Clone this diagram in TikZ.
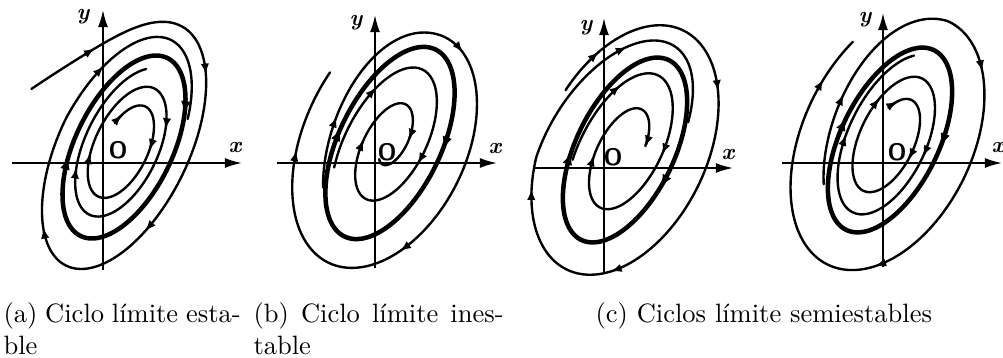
\documentclass[tikz,border=0pt]{standalone}
\usetikzlibrary{arrows.meta}
\newcommand\orb[5]{\draw[#1] plot[domain=#2:#3,samples=130,smooth,variable=\t]({(#4)*100*cos(\t)},{(#4)*(#5)*49*sin(\t)});}
\newcommand\tipat[4]{\pgfmathsetmacro\tbeg{#2-5}\draw[#1] plot[domain=\tbeg:#2,samples=3,variable=\t]({(#3)*100*cos(\t)},{(#3)*(#4)*49*sin(\t)});}
\begin{document}
\begin{tikzpicture}[x=0.377pt,y=-0.377pt,
  traj/.style={line width=0.9pt,line cap=round,line join=round},
  cyc/.style={line width=1.7pt,line join=round},
  tipthin/.style={line width=0.9pt,-{Latex[length=4pt,width=3.2pt]}},
  tipthick/.style={line width=1.4pt,-{Latex[length=4.6pt,width=3.8pt]}},
  axis/.style={line width=0.7pt,-{Latex[length=6.5pt,width=3.8pt]}},
  lbl/.style={inner sep=0pt,font=\fontsize{8.5}{8.5}\selectfont\bfseries\itshape},
  orig/.style={inner sep=0pt,font=\fontsize{9}{9}\selectfont\sffamily\bfseries},
  capt/.style={inner sep=0pt,anchor=base west,font=\normalsize}]
\useasboundingbox (0,0) rectangle (1003,358);

% ---------- (a) ----------
\coordinate (ax0) at (12,163); \coordinate (ax1) at (242,163);
\coordinate (ay0) at (103,270); \coordinate (ay1) at (103,10);
\draw[axis] (ax0) -- (ax1); \draw[axis] (ay0) -- (ay1);
\node[lbl] (ya) at (83,17) {y};
\node[lbl] (xa) at (235,147) {x};
\node[orig] (oa) at (118,150) {O};
\begin{scope}[shift={(124,147)},rotate=64]
\orb{cyc}{0}{360}{0.99}{1}
\tipat{tipthick}{55}{0.99}{1}\tipat{tipthick}{250}{0.99}{1}
\def\sa{1.06+0.26*min(1,(420-\t)/150)+0.9*exp(-min(9,(\t+87)/22))}
\orb{traj}{-87}{420}{\sa}{1}
\tipat{tipthin}{-62}{\sa}{1}\tipat{tipthin}{40}{\sa}{1}\tipat{tipthin}{120}{\sa}{1}\tipat{tipthin}{215}{\sa}{1}\tipat{tipthin}{300}{\sa}{1}
\def\sb{0.42+0.43*(\t+65)/765}
\orb{traj}{-65}{700}{\sb}{1}
\tipat{tipthin}{-50}{\sb}{1}\tipat{tipthin}{80}{\sb}{1}\tipat{tipthin}{250}{\sb}{1}\tipat{tipthin}{420}{\sb}{1}\tipat{tipthin}{600}{\sb}{1}
\end{scope}

% ---------- (b) ----------
\coordinate (bx0) at (277,163); \coordinate (bx1) at (497,163);
\coordinate (by0) at (375,268); \coordinate (by1) at (375,15);
\draw[axis] (bx0) -- (bx1); \draw[axis] (by0) -- (by1);
\node[lbl] (yb) at (356,23) {y};
\node[lbl] (xb) at (495,148) {x};
\node[orig] (ob) at (387,152) {O};
\begin{scope}[shift={(390,143)},rotate=64]
\orb{cyc}{0}{360}{1.04}{1}
\tipat{tipthick}{80}{1.04}{1}\tipat{tipthick}{265}{1.04}{1}
\def\sa{1.08+0.00085*(\t+130)}
\def\ka{1+0.25*min(1,(\t+130)/110)}
\orb{traj}{-130}{285}{\sa}{\ka}
\tipat{tipthin}{-90}{\sa}{\ka}\tipat{tipthin}{20}{\sa}{\ka}\tipat{tipthin}{135}{\sa}{\ka}\tipat{tipthin}{250}{\sa}{\ka}
\def\sb{0.93-0.73*(\t+120)/676}
\orb{traj}{-120}{556}{\sb}{1}
\tipat{tipthin}{-60}{\sb}{1}\tipat{tipthin}{95}{\sb}{1}\tipat{tipthin}{260}{\sb}{1}\tipat{tipthin}{430}{\sb}{1}
\end{scope}

% ---------- (c) ----------
\coordinate (cx0) at (533,168); \coordinate (cx1) at (733,168);
\coordinate (cy0) at (604,273); \coordinate (cy1) at (604,18);
\draw[axis] (cx0) -- (cx1); \draw[axis] (cy0) -- (cy1);
\node[lbl] (yc) at (586,28) {y};
\node[lbl] (xc) at (728,154) {x};
\node[orig] (oc) at (613,157) {O};
\begin{scope}[shift={(625,150)},rotate=64]
\orb{cyc}{0}{360}{1.0}{1}
\tipat{tipthick}{100}{1.0}{1}\tipat{tipthick}{255}{1.0}{1}
\def\sa{1.05+0.28*min(1,(420-\t)/170)}
\def\ka{1+0.25*min(1,(420-\t)/170)}
\orb{traj}{-78}{420}{\sa}{\ka}
\tipat{tipthin}{-55}{\sa}{\ka}\tipat{tipthin}{45}{\sa}{\ka}\tipat{tipthin}{150}{\sa}{\ka}\tipat{tipthin}{235}{\sa}{\ka}\tipat{tipthin}{320}{\sa}{\ka}
\def\sb{0.93-0.57*(\t+110)/540}
\orb{traj}{-110}{430}{\sb}{1}
\tipat{tipthin}{-50}{\sb}{1}\tipat{tipthin}{80}{\sb}{1}\tipat{tipthin}{250}{\sb}{1}\tipat{tipthin}{430}{\sb}{1}
\end{scope}

% ---------- (d) ----------
\coordinate (dx0) at (782,163); \coordinate (dx1) at (1002,163);
\coordinate (dy0) at (883,267); \coordinate (dy1) at (883,13);
\draw[axis] (dx0) -- (dx1); \draw[axis] (dy0) -- (dy1);
\node[lbl] (yd) at (865,20) {y};
\node[lbl] (xd) at (998,147) {x};
\node[orig] (od) at (897,152) {O};
\begin{scope}[shift={(890,140)},rotate=64]
\orb{cyc}{0}{360}{1.0}{1}
\tipat{tipthick}{80}{1.0}{1}\tipat{tipthick}{270}{1.0}{1}
\def\sa{1.07+0.2*min(1,(\t+130)/130)+0.0004*(\t+130)}
\def\ka{1+0.25*min(1,(\t+130)/130)}
\orb{traj}{-130}{300}{\sa}{\ka}
\tipat{tipthin}{-80}{\sa}{\ka}\tipat{tipthin}{40}{\sa}{\ka}\tipat{tipthin}{150}{\sa}{\ka}\tipat{tipthin}{280}{\sa}{\ka}
\def\sb{0.42+0.5*(\t+48)/748}
\orb{traj}{-48}{700}{\sb}{1}
\tipat{tipthin}{-30}{\sb}{1}\tipat{tipthin}{100}{\sb}{1}\tipat{tipthin}{300}{\sb}{1}\tipat{tipthin}{450}{\sb}{1}\tipat{tipthin}{620}{\sb}{1}
\end{scope}

% ---------- captions ----------
\node[capt] (capa) at (3,323) {\makebox[89.4pt][s]{(a) Ciclo límite esta-}};
\node[capt] (capa2) at (3,354) {ble};
\node[capt] (capb) at (253,323) {\makebox[94.3pt][s]{(b) Ciclo límite ines-}};
\node[capt] (capb2) at (253,354) {table};
\node[capt] (capc) at (595,323) {(c) Ciclos límite semiestables};
\end{tikzpicture}
\end{document}
